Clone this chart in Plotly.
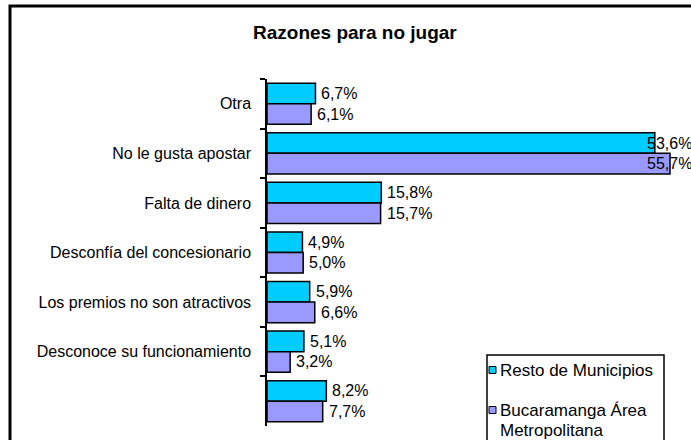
import plotly.graph_objects as go

# Survey: reasons for not playing (percent of respondents)
categories = [
    "Otra",
    "No le gusta apostar",
    "Falta de dinero",
    "Desconfía del concesionario",
    "Los premios no son atractivos",
    "Desconoce su funcionamiento",
    " ",
]
resto = [6.7, 53.6, 15.8, 4.9, 5.9, 5.1, 8.2]
bucaramanga = [6.1, 55.7, 15.7, 5.0, 6.6, 3.2, 7.7]
series_names = ["Resto de Municipios", "Bucaramanga Área Metropolitana"]
series_colors = ["#00CCFF", "#9999FF"]

W, H = 691, 440
ML, MR, MT, MB = 267, 0, 79, 14
X_MAX = 58.6
BARGAP = 0.17
FONT = "Liberation Sans, Arial, sans-serif"

pw = W - ML - MR
ph = H - MT - MB


def px_x(px):
    return (px - ML) / pw


def px_y(py):
    return (H - MB - py) / ph


fig = go.Figure()
for name, vals, col in zip(series_names, [resto, bucaramanga], series_colors):
    fig.add_trace(go.Bar(
        y=categories, x=vals, orientation="h", name=name,
        marker=dict(color=col, line=dict(color="black", width=1.5)),
        showlegend=False, hoverinfo="x+y",
    ))


def fmt(v):
    return f"{v:.1f}%".replace(".", ",")


# value labels, kept inside the plotting area on the right
cap = X_MAX - 6.9
half = (1 - BARGAP) / 4 * (ph / len(categories))
annotations = []
for vals, shift in [(resto, half), (bucaramanga, -half)]:
    for i, v in enumerate(vals):
        annotations.append(dict(
            x=min(v, cap), y=i, xref="x", yref="y", text=fmt(v),
            showarrow=False, xanchor="left", yanchor="middle",
            xshift=4, yshift=shift,
            font=dict(family=FONT, size=16, color="black"),
        ))

# title
annotations.append(dict(
    x=px_x(355), y=px_y(33), xref="paper", yref="paper",
    text="<b>Razones para no jugar</b>", showarrow=False,
    xanchor="center", yanchor="middle",
    font=dict(family=FONT, size=19, color="black"),
))

# legend box (drawn by hand)
LX0, LY0, LX1 = 487, 355, 664
shapes = [
    dict(type="rect", xref="paper", yref="paper",
         x0=px_x(10), x1=px_x(W + 40), y0=px_y(H + 40), y1=px_y(6),
         line=dict(color="black", width=3), fillcolor="rgba(0,0,0,0)",
         layer="above"),
    dict(type="rect", xref="paper", yref="paper",
         x0=px_x(LX0), x1=px_x(LX1), y0=px_y(H + 20), y1=px_y(LY0),
         line=dict(color="black", width=1.5), fillcolor="white",
         layer="above"),
]
legend_rows = [
    (370, [series_names[0]]),
    (410, ["Bucaramanga Área", "Metropolitana"]),
]
for (cy, lines), col in zip(legend_rows, series_colors):
    shapes.append(dict(
        type="rect", xref="paper", yref="paper",
        x0=px_x(489), x1=px_x(496), y0=px_y(cy + 3.5), y1=px_y(cy - 3.5),
        line=dict(color="black", width=1), fillcolor=col, layer="above",
    ))
    for k, line in enumerate(lines):
        annotations.append(dict(
            x=px_x(498), y=px_y(cy + 20 * k), xref="paper", yref="paper",
            text=line, showarrow=False, xanchor="left", yanchor="middle",
            font=dict(family=FONT, size=17, color="black"),
        ))

fig.update_layout(
    width=W, height=H,
    margin=dict(l=ML, r=MR, t=MT, b=MB),
    paper_bgcolor="white", plot_bgcolor="white",
    barmode="group", bargap=BARGAP, bargroupgap=0,
    font=dict(family=FONT, size=16, color="black"),
    annotations=annotations, shapes=shapes,
    xaxis=dict(range=[0, X_MAX], visible=False, fixedrange=True),
    yaxis=dict(
        categoryorder="array", categoryarray=categories, autorange="reversed",
        showline=True, linecolor="black", linewidth=1.5,
        ticks="outside", tickson="boundaries", ticklen=5,
        tickcolor="black", tickwidth=1.5, showgrid=False,
        tickfont=dict(family=FONT, size=16, color="black"),
        ticklabelstandoff=11,
    ),
)

fig.write_html("out.html")
